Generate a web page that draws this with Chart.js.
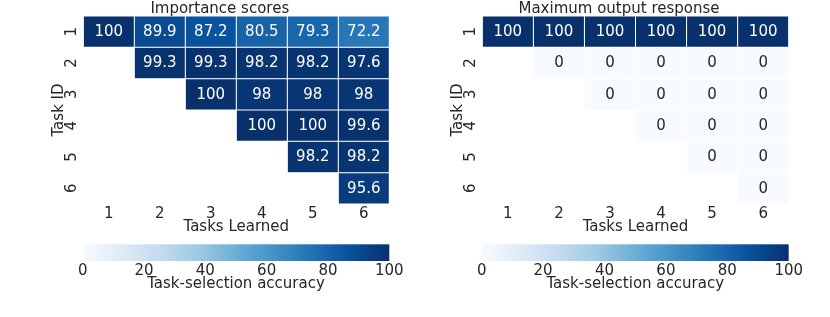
<!DOCTYPE html>
<html><head><meta charset="utf-8">
<script src="https://cdn.jsdelivr.net/npm/chart.js@4"></script>
<style>
html,body{margin:0;padding:0;background:#fff}
body{width:830px;height:317px;overflow:hidden;position:relative}
.box{position:absolute}
</style></head><body>
<div class="box" style="left:0;top:0;width:415px;height:236px"><canvas id="h1"></canvas></div>
<div class="box" style="left:415px;top:0;width:415px;height:236px"><canvas id="h2"></canvas></div>
<div class="box" style="left:0;top:236px;width:415px;height:57px"><canvas id="c1"></canvas></div>
<div class="box" style="left:415px;top:236px;width:415px;height:57px"><canvas id="c2"></canvas></div>
<script>
// ---- data ----
const tasksLearned = ['1', '2', '3', '4', '5', '6'];
const taskIds = [1, 2, 3, 4, 5, 6];

// Importance scores: one row per task ID, columns = tasks learned
const impTask1 = [100, 89.9, 87.2, 80.5, 79.3, 72.2];
const impTask2 = [null, 99.3, 99.3, 98.2, 98.2, 97.6];
const impTask3 = [null, null, 100, 98, 98, 98];
const impTask4 = [null, null, null, 100, 100, 99.6];
const impTask5 = [null, null, null, null, 98.2, 98.2];
const impTask6 = [null, null, null, null, null, 95.6];

// Maximum output response
const maxTask1 = [100, 100, 100, 100, 100, 100];
const maxTask2 = [null, 0, 0, 0, 0, 0];
const maxTask3 = [null, null, 0, 0, 0, 0];
const maxTask4 = [null, null, null, 0, 0, 0];
const maxTask5 = [null, null, null, null, 0, 0];
const maxTask6 = [null, null, null, null, null, 0];

const colorbarTicks = [0, 20, 40, 60, 80, 100];

// ---- style ----
const FONT = "'DejaVu Sans', 'Liberation Sans', sans-serif";
const FS = 15;
const TEXT = '#262626';
Chart.defaults.font.family = FONT;
Chart.defaults.color = TEXT;

const BLUES = [
  [247,251,255],[222,235,247],[198,219,239],[158,202,225],[107,174,214],
  [66,146,198],[33,113,181],[8,81,156],[8,48,107]
];
function bluesRGB(t) {
  t = Math.max(0, Math.min(1, t));
  const p = t * (BLUES.length - 1);
  const i = Math.min(Math.floor(p), BLUES.length - 2);
  const f = p - i;
  return BLUES[i].map((c, k) => c + (BLUES[i + 1][k] - c) * f);
}
function blues(t) {
  const c = bluesRGB(t);
  return `rgb(${c.map(Math.round).join(',')})`;
}
function textColorFor(t) {
  const lin = bluesRGB(t).map(c => {
    c /= 255;
    return c <= 0.03928 ? c / 12.92 : Math.pow((c + 0.055) / 1.055, 2.4);
  });
  const lum = 0.2126 * lin[0] + 0.7152 * lin[1] + 0.0722 * lin[2];
  return lum > 0.408 ? TEXT : '#ffffff';
}

const cellLabels = {
  id: 'cellLabels',
  afterDatasetsDraw(chart) {
    const ctx = chart.ctx;
    ctx.save();
    ctx.font = `${FS}px ${FONT}`;
    ctx.textAlign = 'center';
    ctx.textBaseline = 'middle';
    chart.data.datasets.forEach((ds, i) => {
      chart.getDatasetMeta(i).data.forEach((el, j) => {
        const v = ds.values[j];
        if (v === null || v === undefined) return;
        const p = el.getProps(['x', 'y', 'base'], true);
        ctx.fillStyle = textColorFor(v / 100);
        ctx.fillText(String(v), p.x, (p.y + p.base) / 2 + 0.5);
      });
    });
    ctx.restore();
  }
};

function heatmap(id, title, rows, padLeft, padRight) {
  const datasets = rows.map((vals, r) => ({
    label: 'Task ' + taskIds[r],
    values: vals,
    data: vals.map(v => v === null ? null : [taskIds[r] - 0.5, taskIds[r] + 0.5]),
    backgroundColor: vals.map(v => v === null ? 'rgba(0,0,0,0)' : blues(v / 100)),
    borderColor: 'rgba(255,255,255,0.35)',
    borderWidth: 0.5,
    borderSkipped: false,
    grouped: false,
    barPercentage: 1,
    categoryPercentage: 1,
    inflateAmount: 0
  }));
  return new Chart(document.getElementById(id), {
    type: 'bar',
    data: { labels: tasksLearned, datasets },
    options: {
      animation: false, responsive: true, maintainAspectRatio: false,
      layout: { padding: { left: padLeft, right: padRight, top: 0, bottom: 0 } },
      plugins: {
        legend: { display: false }, tooltip: { enabled: false },
        title: { display: true, text: title, color: TEXT, padding: { top: 1.5, bottom: 0 },
                 font: { size: FS, weight: 'normal', lineHeight: 14.5 / FS } }
      },
      scales: {
        x: {
          type: 'category', offset: true,
          grid: { display: false, drawTicks: false }, border: { display: false },
          ticks: { padding: 1.5, maxRotation: 0, font: { size: FS }, color: TEXT },
          title: { display: true, text: 'Tasks Learned', padding: 0, color: TEXT, font: { size: FS } },
          afterFit: s => { s.height = 32; }
        },
        y: {
          type: 'linear', reverse: true, min: 0.5, max: 6.5,
          afterBuildTicks: s => { s.ticks = taskIds.map(v => ({ value: v })); },
          grid: { display: false, drawTicks: false }, border: { display: false },
          ticks: { minRotation: 90, maxRotation: 90, crossAlign: 'center', padding: 6,
                   font: { size: FS }, color: TEXT, callback: v => String(v) },
          title: { display: true, text: 'Task ID', padding: 0, color: TEXT, font: { size: FS } },
          afterFit: s => { s.width = 33; }
        }
      }
    },
    plugins: [cellLabels]
  });
}

const gradientBar = {
  id: 'gradientBar',
  beforeDatasetsDraw(chart) {
    const { ctx, chartArea: a } = chart;
    const g = ctx.createLinearGradient(a.left, 0, a.right, 0);
    BLUES.forEach((c, i) => g.addColorStop(i / (BLUES.length - 1), `rgb(${c.join(',')})`));
    ctx.save();
    ctx.fillStyle = g;
    ctx.fillRect(a.left, a.top, a.right - a.left, a.bottom - a.top);
    ctx.restore();
  }
};

function colorbar(id, padLeft, padRight) {
  return new Chart(document.getElementById(id), {
    type: 'scatter',
    data: { datasets: [{ data: [] }] },
    options: {
      animation: false, responsive: true, maintainAspectRatio: false,
      layout: { padding: { left: padLeft, right: padRight, top: 8.3, bottom: 0 } },
      plugins: { legend: { display: false }, tooltip: { enabled: false } },
      scales: {
        x: {
          type: 'linear', min: 0, max: 100,
          afterBuildTicks: s => { s.ticks = colorbarTicks.map(v => ({ value: v })); },
          grid: { display: false, drawTicks: false }, border: { display: false },
          ticks: { padding: 1.5, maxRotation: 0, font: { size: FS }, color: TEXT, callback: v => String(v) },
          title: { display: true, text: 'Task-selection accuracy', padding: 0, color: TEXT, font: { size: FS } },
          afterFit: s => { s.height = 32; }
        },
        y: { display: false, min: 0, max: 1 }
      }
    },
    plugins: [gradientBar]
  });
}

heatmap('h1', 'Importance scores',
  [impTask1, impTask2, impTask3, impTask4, impTask5, impTask6], 50.3, 25.7);
heatmap('h2', 'Maximum output response',
  [maxTask1, maxTask2, maxTask3, maxTask4, maxTask5, maxTask6], 34.3, 41.3);
colorbar('c1', 82.7, 25.7);
colorbar('c2', 66.7, 41.3);
</script>
</body></html>
